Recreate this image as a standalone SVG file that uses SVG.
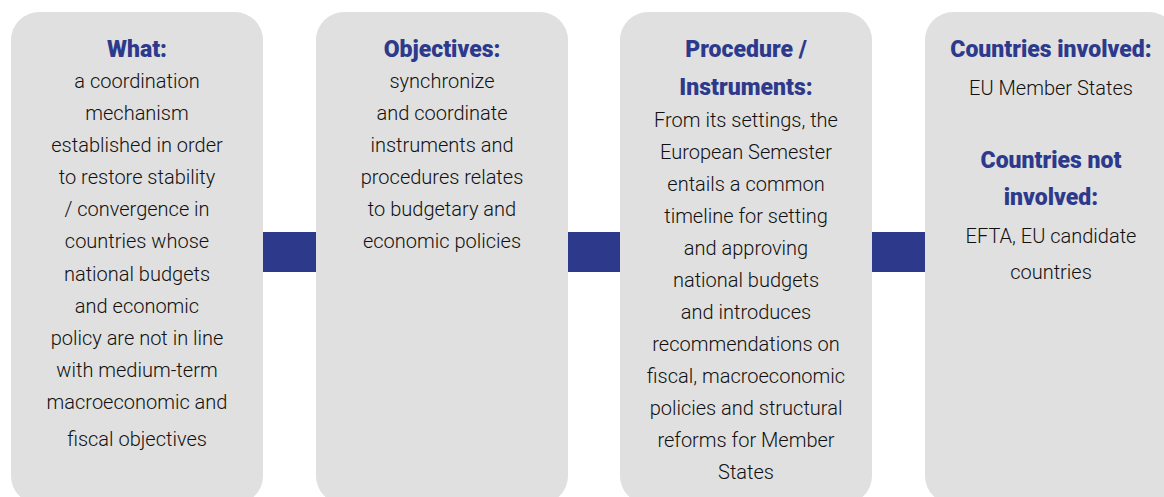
<svg xmlns="http://www.w3.org/2000/svg" width="1164" height="497" viewBox="0 0 1164 497">
<style>
.box{fill:#e0e0e0}
.bar{fill:#2d3a8c}
text{font-family:Roboto,"Liberation Sans",sans-serif;text-anchor:middle}
.t{font-weight:900;font-size:23px;fill:#2d3a8c}
.b{font-size:20px;font-weight:300;fill:#111111}
</style>
<rect width="1164" height="497" fill="#ffffff"/>
<g id="connectors">
<rect class="bar" x="262" y="232" width="55" height="40"/>
<rect class="bar" x="567" y="232" width="54" height="40"/>
<rect class="bar" x="871" y="232" width="55" height="40"/>
</g>
<g id="node-what">
<rect class="box" x="11" y="12" width="252" height="492" rx="28"/>
<text class="t" x="137" y="57">What:</text>
<text class="b" x="137" y="88">a coordination</text>
<text class="b" x="137" y="120">mechanism</text>
<text class="b" x="137" y="152">established in order</text>
<text class="b" x="137" y="184">to restore stability</text>
<text class="b" x="137" y="216">/ convergence in</text>
<text class="b" x="137" y="248">countries whose</text>
<text class="b" x="137" y="281">national budgets</text>
<text class="b" x="137" y="313">and economic</text>
<text class="b" x="137" y="345">policy are not in line</text>
<text class="b" x="137" y="377">with medium-term</text>
<text class="b" x="137" y="409">macroeconomic and</text>
<text class="b" x="137" y="446">fiscal objectives</text>
</g>
<g id="node-objectives">
<rect class="box" x="316" y="12" width="252" height="492" rx="28"/>
<text class="t" x="442" y="57">Objectives:</text>
<text class="b" x="442" y="88">synchronize</text>
<text class="b" x="442" y="120">and coordinate</text>
<text class="b" x="442" y="152">instruments and</text>
<text class="b" x="442" y="184">procedures relates</text>
<text class="b" x="442" y="216">to budgetary and</text>
<text class="b" x="442" y="248">economic policies</text>
</g>
<g id="node-procedure">
<rect class="box" x="620" y="12" width="252" height="492" rx="28"/>
<text class="t" x="746" y="57">Procedure /</text>
<text class="t" x="746" y="95">Instruments:</text>
<text class="b" x="746" y="127">From its settings, the</text>
<text class="b" x="746" y="159">European Semester</text>
<text class="b" x="746" y="191">entails a common</text>
<text class="b" x="746" y="223">timeline for setting</text>
<text class="b" x="746" y="255">and approving</text>
<text class="b" x="746" y="287">national budgets</text>
<text class="b" x="746" y="319">and introduces</text>
<text class="b" x="746" y="351">recommendations on</text>
<text class="b" x="746" y="383">fiscal, macroeconomic</text>
<text class="b" x="746" y="415">policies and structural</text>
<text class="b" x="746" y="447">reforms for Member</text>
<text class="b" x="746" y="479">States</text>
</g>
<g id="node-countries">
<rect class="box" x="925" y="12" width="252" height="492" rx="28"/>
<text class="t" x="1051" y="57">Countries involved:</text>
<text class="b" x="1051" y="95">EU Member States</text>
<text class="t" x="1051" y="168">Countries not</text>
<text class="t" x="1051" y="205">involved:</text>
<text class="b" x="1051" y="243">EFTA, EU candidate</text>
<text class="b" x="1051" y="279">countries</text>
</g>
</svg>
